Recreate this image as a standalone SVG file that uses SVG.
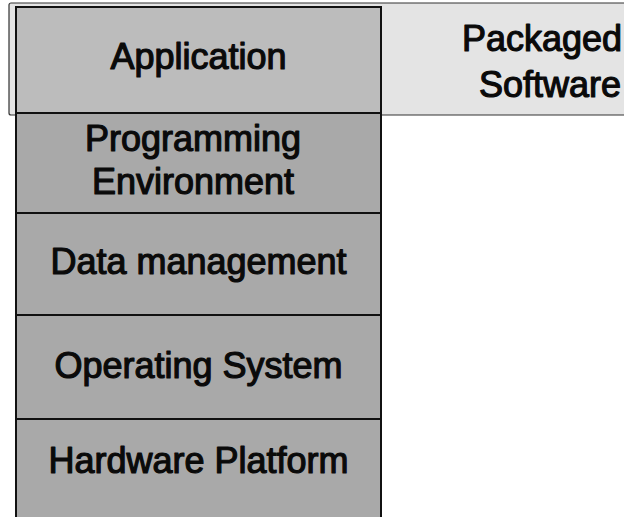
<svg xmlns="http://www.w3.org/2000/svg" width="624" height="517" viewBox="0 0 624 517">
  <style>
    .lbl { font-family: "Liberation Sans", Arial, sans-serif; font-size: 36px; fill: #0a0a0a; stroke: #0a0a0a; stroke-width: 1.2px; stroke-linejoin: round; }
    .mid { text-anchor: middle; }
    .end { text-anchor: end; }
    .layer { fill: #a9a9a9; stroke: #111; stroke-width: 2; }
  </style>

  <rect width="624" height="517" fill="#ffffff"/>

  <!-- Packaged software band spanning the top -->
  <g id="packaged-software">
    <rect x="9" y="3" width="625" height="112" rx="2" fill="#e4e4e4" stroke="#333" stroke-width="1.2"/>
    <text class="lbl end" x="622" y="51">Packaged</text>
    <text class="lbl end" x="621" y="97">Software</text>
  </g>

  <!-- Layer stack -->
  <g id="application">
    <rect x="16" y="7" width="365" height="106" fill="#bcbcbc" stroke="#111" stroke-width="2"/>
    <text class="lbl mid" x="198.5" y="69">Application</text>
  </g>

  <g id="programming-environment">
    <rect class="layer" x="16" y="113" width="365" height="100"/>
    <text class="lbl mid" x="193" y="151">Programming</text>
    <text class="lbl mid" x="193" y="194">Environment</text>
  </g>

  <g id="data-management">
    <rect class="layer" x="16" y="213" width="365" height="102"/>
    <text class="lbl mid" x="198.5" y="274">Data management</text>
  </g>

  <g id="operating-system">
    <rect class="layer" x="16" y="315" width="365" height="104"/>
    <text class="lbl mid" x="198.5" y="378">Operating System</text>
  </g>

  <g id="hardware-platform">
    <rect class="layer" x="16" y="419" width="365" height="110"/>
    <text class="lbl mid" x="198.5" y="473">Hardware Platform</text>
  </g>

  <g id="connectors"/>
</svg>
